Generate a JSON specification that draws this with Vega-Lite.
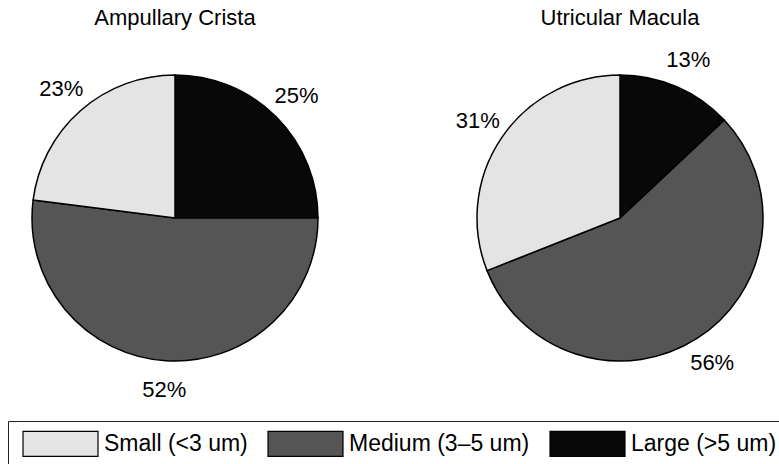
{
  "$schema": "https://vega.github.io/schema/vega-lite/v6.json",
  "padding": {"left": 5, "right": 5, "top": 7, "bottom": 5},
  "background": "white",
  "data": {
    "values": [
      {"site": "Ampullary Crista", "size": "Large (>5 um)", "pct": 25, "label": "25%"},
      {"site": "Ampullary Crista", "size": "Medium (3–5 um)", "pct": 52, "label": "52%"},
      {"site": "Ampullary Crista", "size": "Small (<3 um)", "pct": 23, "label": "23%"},
      {"site": "Utricular Macula", "size": "Large (>5 um)", "pct": 13, "label": "13%"},
      {"site": "Utricular Macula", "size": "Medium (3–5 um)", "pct": 56, "label": "56%"},
      {"site": "Utricular Macula", "size": "Small (<3 um)", "pct": 31, "label": "31%"}
    ]
  },
  "facet": {
    "column": {
      "field": "site",
      "type": "nominal",
      "header": {
        "title": null,
        "labelFontSize": 22,
        "labelFont": "Liberation Sans",
        "labelColor": "black",
        "labelPadding": 8
      }
    }
  },
  "spacing": 105,
  "spec": {
    "width": 340,
    "height": 360,
    "layer": [
      {
        "mark": {"type": "arc", "outerRadius": 143, "stroke": "black", "strokeWidth": 1.5},
        "encoding": {
          "theta": {"field": "pct", "type": "quantitative", "stack": true},
          "order": {"field": "size", "type": "ordinal", "sort": "ascending"},
          "color": {
            "field": "size",
            "type": "nominal",
            "scale": {
              "domain": ["Small (<3 um)", "Medium (3–5 um)", "Large (>5 um)"],
              "range": ["#e4e4e4", "#555555", "#080808"]
            },
            "legend": {
              "title": null,
              "orient": "none",
              "direction": "horizontal",
              "legendX": 3,
              "legendY": 383,
              "symbolType": "M-3,-1H3V1H-3Z",
              "symbolSize": 625,
              "symbolOffset": 30,
              "labelOffset": 30,
              "labelLimit": 400,
              "symbolStrokeColor": "black",
              "symbolStrokeWidth": 1.2,
              "symbolOpacity": 1,
              "labelFontSize": 23,
              "labelFont": "Liberation Sans",
              "labelColor": "black",
              "columnPadding": 14,
              "padding": 9,
              "strokeColor": "#222222"
            }
          }
        }
      },
      {
        "mark": {"type": "text", "radius": 172, "fontSize": 22, "font": "Liberation Sans", "color": "black"},
        "encoding": {
          "theta": {"field": "pct", "type": "quantitative", "stack": true},
          "order": {"field": "size", "type": "ordinal", "sort": "ascending"},
          "text": {"field": "label", "type": "nominal"}
        }
      }
    ]
  },
  "config": {
    "view": {"stroke": null},
    "font": "Liberation Sans"
  }
}
